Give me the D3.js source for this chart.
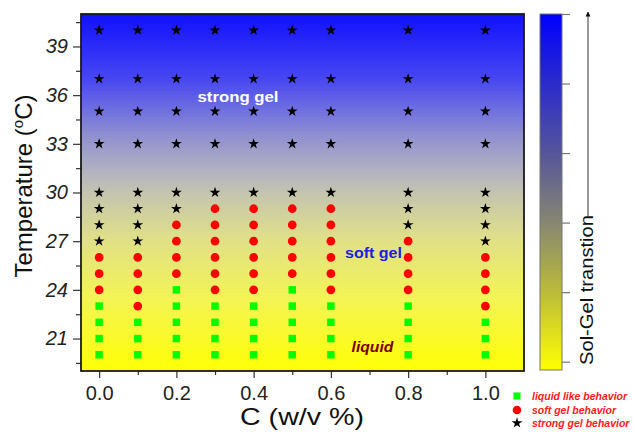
<!DOCTYPE html>
<html>
<head>
<meta charset="utf-8">
<script src="https://cdn.jsdelivr.net/npm/d3@7"></script>
<style>
  body { margin: 0; background: #fff; }
  svg { font-family: "Liberation Sans", Arial, sans-serif; }
</style>
</head>
<body>
<svg id="chart" width="633" height="432"></svg>
<script>
// concentrations (w/v %) and temperatures (C) that were tested
var concs = [0.0, 0.1, 0.2, 0.3, 0.4, 0.5, 0.6, 0.8, 1.0];
var temps = [20, 21, 22, 23, 24, 25, 26, 27, 28, 29, 30, 33, 35, 37, 40];
// state at each temperature, one string per concentration
// L = liquid like, S = soft gel, G = strong gel
var states = [
  "LLLLSSSGGGGGGGG",
  "LLLSSSSGGGGGGGG",
  "LLLLLSSSSGGGGGG",
  "LLLLSSSSSSGGGGG",
  "LLLLSSSSSSGGGGG",
  "LLLLLSSSSSGGGGG",
  "LLLLSSSSSSGGGGG",
  "LLLLSSSSGGGGGGG",
  "LLLSSSSGGGGGGGG"
];
var xTicks = [0.0, 0.2, 0.4, 0.6, 0.8, 1.0];
var yTicks = [21, 24, 27, 30, 33, 36, 39];
var legendNames = ["liquid like behavior", "soft gel behavior", "strong gel behavior"];

var svg = d3.select("#chart");
// plot box (named so as not to clash with window.top)
var pLeft = 81, pRight = 524, pTop = 14, pBottom = 371;

var x = d3.scaleLinear().domain([-0.047, 1.1]).range([pLeft, pRight]);
var y = d3.scaleLinear().domain([19, 41]).range([pBottom, pTop]);

var defs = svg.append("defs");

// background gradient of the plot
var bg = defs.append("linearGradient").attr("id", "bg")
    .attr("x1", 0).attr("y1", 0).attr("x2", 0).attr("y2", 1);
[[0, "#1010ff"], [0.18, "#4646f2"], [0.27, "#7070e0"], [0.35, "#9393cf"],
 [0.44, "#b2b2c0"], [0.5, "#c4c4b0"], [0.63, "#e0e088"], [0.8, "#f4f454"],
 [1, "#ffff05"]].forEach(function(s) {
    bg.append("stop").attr("offset", s[0]).attr("stop-color", s[1]);
});

// colour bar gradient
var cb = defs.append("linearGradient").attr("id", "cb")
    .attr("x1", 0).attr("y1", 0).attr("x2", 0).attr("y2", 1);
[[0, "#0000ff"], [0.19, "#2a2acc"], [0.39, "#55559a"], [0.59, "#888870"],
 [0.78, "#bbbb3a"], [0.95, "#f0f010"], [1, "#ffff00"]].forEach(function(s) {
    cb.append("stop").attr("offset", s[0]).attr("stop-color", s[1]);
});

svg.append("rect")
    .attr("x", pLeft).attr("y", pTop)
    .attr("width", pRight - pLeft).attr("height", pBottom - pTop)
    .attr("fill", "url(#bg)");

// axes
var xAxis = svg.append("g")
    .attr("transform", "translate(0," + pBottom + ")")
    .call(d3.axisBottom(x).tickValues(xTicks).tickFormat(d3.format(".1f"))
          .tickSize(7).tickPadding(8));
var xMinor = svg.append("g")
    .attr("transform", "translate(0," + pBottom + ")")
    .call(d3.axisBottom(x).tickValues([0.1, 0.3, 0.5, 0.7, 0.9]).tickFormat("")
          .tickSize(4));

var yAxis = svg.append("g")
    .attr("transform", "translate(" + pLeft + ",0)")
    .call(d3.axisLeft(y).tickValues(yTicks).tickSize(8).tickPadding(5));
var yMinor = svg.append("g")
    .attr("transform", "translate(" + pLeft + ",0)")
    .call(d3.axisLeft(y).tickValues([19.5, 22.5, 25.5, 28.5, 31.5, 34.5, 37.5, 40.5])
          .tickFormat("").tickSize(5));

[xAxis, xMinor, yAxis, yMinor].forEach(function(a) {
    a.select(".domain").remove();
    a.selectAll(".tick line").attr("stroke", "#333").attr("stroke-width", 1.2);
});
xAxis.selectAll("text").attr("font-size", "20px").attr("fill", "#222")
    .attr("font-family", "Liberation Sans, Arial, sans-serif");
yAxis.selectAll("text").attr("font-size", "20px").attr("fill", "#222")
    .attr("font-style", "italic")
    .attr("font-family", "Liberation Sans, Arial, sans-serif");

// frame
svg.append("rect")
    .attr("x", pLeft).attr("y", pTop)
    .attr("width", pRight - pLeft).attr("height", pBottom - pTop)
    .attr("fill", "none").attr("stroke", "#1a1a1a").attr("stroke-width", 1.8);

// markers
var sym = {
    L: d3.symbol().type(d3.symbolSquare).size(56),
    S: d3.symbol().type(d3.symbolCircle).size(60),
    G: d3.symbol().type(d3.symbolStar).size(36)
};
var col = { L: "#00ff00", S: "#ff0000", G: "#000000" };

var pts = [];
concs.forEach(function(c, i) {
    temps.forEach(function(t, j) {
        pts.push({ c: c, t: t, s: states[i][j] });
    });
});

svg.append("g").selectAll("path")
    .data(pts)
    .enter().append("path")
    .attr("transform", function(d) { return "translate(" + x(d.c) + "," + y(d.t) + ")"; })
    .attr("d", function(d) { return sym[d.s](); })
    .attr("fill", function(d) { return col[d.s]; });

// region labels
svg.append("text").attr("x", 238).attr("y", 102.3)
    .attr("text-anchor", "middle").attr("font-size", "14.8px").attr("font-weight", "bold")
    .attr("fill", "#ffffff").attr("textLength", 81).attr("lengthAdjust", "spacingAndGlyphs")
    .text("strong gel");
svg.append("text").attr("x", 373.5).attr("y", 258.3)
    .attr("text-anchor", "middle").attr("font-size", "15px").attr("font-weight", "bold")
    .attr("fill", "#1c1ce6").attr("textLength", 57).attr("lengthAdjust", "spacingAndGlyphs")
    .text("soft gel");
svg.append("text").attr("x", 372.5).attr("y", 351.7)
    .attr("text-anchor", "middle").attr("font-size", "15px").attr("font-weight", "bold")
    .attr("font-style", "italic")
    .attr("fill", "#7a0000").attr("textLength", 42).attr("lengthAdjust", "spacingAndGlyphs")
    .text("liquid");

// axis titles
svg.append("text").attr("x", 302).attr("y", 425)
    .attr("text-anchor", "middle").attr("font-size", "24px").attr("fill", "#111")
    .attr("textLength", 124).attr("lengthAdjust", "spacingAndGlyphs")
    .text("C (w/v %)");

var yt = svg.append("text")
    .attr("transform", "translate(32,186) rotate(-90)")
    .attr("text-anchor", "middle").attr("font-size", "24px").attr("fill", "#111");
yt.append("tspan").text("Temperature (");
yt.append("tspan").attr("font-size", "15px").attr("dy", -9).text("o");
yt.append("tspan").attr("dy", 9).text("C)");

// colour bar
var cbScale = d3.scaleLinear().domain([-0.12, 5]).range([370, 14]);
svg.append("rect")
    .attr("x", 540).attr("y", cbScale(5))
    .attr("width", 22).attr("height", cbScale(-0.12) - cbScale(5))
    .attr("fill", "url(#cb)").attr("stroke", "#777").attr("stroke-width", 1);
var cbAxis = svg.append("g")
    .attr("transform", "translate(562,0)")
    .call(d3.axisRight(cbScale).tickValues([0, 1, 2, 3, 4, 5]).tickFormat("").tickSize(8));
cbAxis.select(".domain").remove();
cbAxis.selectAll(".tick line").attr("stroke", "#777").attr("stroke-width", 1.2);

svg.append("text")
    .attr("transform", "translate(593,365) rotate(-90)")
    .attr("font-size", "19px").attr("fill", "#111")
    .attr("textLength", 150).attr("lengthAdjust", "spacingAndGlyphs")
    .text("Sol-Gel transtion");

defs.append("marker").attr("id", "arrow")
    .attr("viewBox", "0 0 10 10").attr("refX", 9).attr("refY", 5)
    .attr("markerWidth", 5).attr("markerHeight", 8).attr("orient", "auto")
    .attr("markerUnits", "userSpaceOnUse")
    .append("path").attr("d", "M0,0 L10,5 L0,10 Z").attr("fill", "#111");
svg.append("line")
    .attr("x1", 588).attr("y1", 216).attr("x2", 588).attr("y2", 12)
    .attr("stroke", "#333").attr("stroke-width", 1)
    .attr("marker-end", "url(#arrow)");

// legend
var leg = svg.append("g");
legendNames.forEach(function(name, i) {
    var k = ["L", "S", "G"][i];
    var ly = [396, 410, 423][i];
    leg.append("path")
        .attr("transform", "translate(517," + ly + ")")
        .attr("d", d3.symbol().type(k === "L" ? d3.symbolSquare : k === "S" ? d3.symbolCircle : d3.symbolStar)
              .size(k === "L" ? 50 : k === "S" ? 58 : 36)())
        .attr("fill", col[k]);
    leg.append("text")
        .attr("x", 532).attr("y", ly + 4)
        .attr("font-size", "10.5px").attr("font-weight", "bold").attr("font-style", "italic")
        .attr("fill", "#ff1a1a")
        .text(name);
});
</script>
</body>
</html>
